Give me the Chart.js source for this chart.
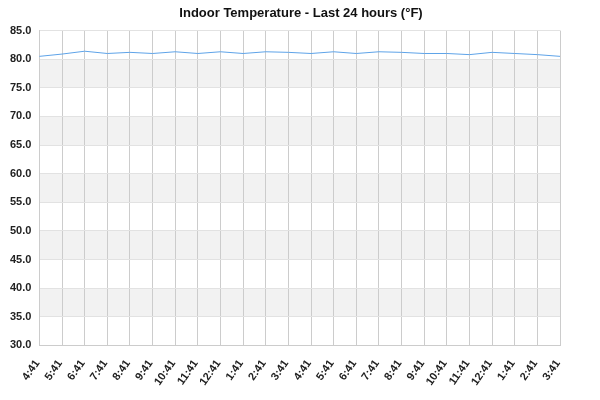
<!DOCTYPE html>
<html>
<head>
<meta charset="utf-8">
<script src="https://cdn.jsdelivr.net/npm/chart.js@4.4.0/dist/chart.umd.min.js"></script>
<style>
  html, body { margin: 0; padding: 0; background: #fff; }
  #wrap { width: 600px; height: 400px; }
</style>
</head>
<body>
<div id="wrap"><canvas id="myChart"></canvas></div>
<script>
// hour labels, last 24 hours
const hours = ['4:41', '5:41', '6:41', '7:41', '8:41', '9:41', '10:41', '11:41', '12:41', '1:41', '2:41', '3:41',
               '4:41', '5:41', '6:41', '7:41', '8:41', '9:41', '10:41', '11:41', '12:41', '1:41', '2:41', '3:41'];
// indoor temperature (°F)
const temps = [80.5, 80.9, 81.4, 81.0, 81.2, 81.0, 81.3, 81.0, 81.3, 81.0, 81.3, 81.2,
               81.0, 81.3, 81.0, 81.3, 81.2, 81.0, 81.0, 80.8, 81.2, 81.0, 80.8, 80.5];
const yMin = 30;
const yMax = 85;
const yStep = 5;

// grey bands between every other pair of y ticks
const bands = {
  id: 'bands',
  beforeDraw(chart) {
    const { ctx, chartArea, scales } = chart;
    const y = scales.y;
    ctx.save();
    ctx.fillStyle = '#f2f2f2';
    for (let v = yMin; v < yMax; v += yStep) {
      if (((v - yMin) / yStep) % 2 === 1) {
        const top = y.getPixelForValue(v + yStep);
        const bottom = y.getPixelForValue(v);
        ctx.fillRect(chartArea.left, top, chartArea.right - chartArea.left, bottom - top);
      }
    }
    ctx.restore();
  }
};

const font = { family: 'Liberation Sans, Arial, sans-serif', weight: 'bold', size: 11 };

new Chart(document.getElementById('myChart'), {
  type: 'line',
  data: {
    labels: hours,
    datasets: [{
      label: 'Indoor',
      data: temps,
      borderColor: '#5ea3e8',
      borderWidth: 1,
      pointRadius: 0,
      tension: 0,
      fill: false
    }]
  },
  options: {
    responsive: true,
    maintainAspectRatio: false,
    animation: false,
    layout: { padding: { left: 2, right: 0, top: 4, bottom: 0 } },
    plugins: {
      legend: { display: false },
      tooltip: { enabled: false },
      title: {
        display: true,
        text: 'Indoor Temperature - Last 24 hours (°F)',
        color: '#111',
        font: { family: 'Liberation Sans, Arial, sans-serif', weight: 'bold', size: 13 },
        padding: { top: 2, bottom: 9 }
      }
    },
    scales: {
      x: {
        offset: false,
        grid: { color: '#cccccc', drawTicks: false },
        border: { color: '#cccccc' },
        ticks: {
          color: '#222',
          font: font,
          minRotation: 55,
          maxRotation: 55,
          autoSkip: false,
          labelOffset: -2,
          padding: 12
        }
      },
      y: {
        min: yMin,
        max: yMax,
        grid: { color: '#e2e2e2', drawTicks: false },
        border: { color: '#cccccc' },
        ticks: {
          stepSize: yStep,
          color: '#222',
          font: font,
          padding: 8,
          callback: v => Number(v).toFixed(1)
        }
      },
      // empty right-hand gutter so the title stays centred on the page
      gutter: {
        type: 'linear',
        position: 'right',
        grid: { display: false },
        border: { display: false },
        ticks: { display: false },
        afterFit(scale) { scale.width = 40; }
      }
    }
  },
  plugins: [bands]
});
</script>
</body>
</html>
